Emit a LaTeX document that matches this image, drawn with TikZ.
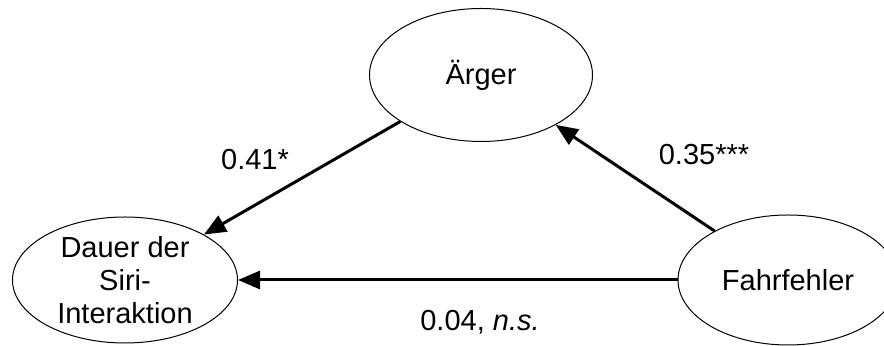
\documentclass[tikz,border=0pt]{standalone}
\usepackage{fontspec}
\setmainfont{Liberation Sans}
\usetikzlibrary{arrows.meta,shapes.geometric}

\begin{document}
\begin{tikzpicture}[x=1pt, y=1pt, >={Triangle[length=11pt,width=9pt]},
    var/.style={draw, ellipse, line width=0.5pt, inner sep=0pt, align=center,
        font=\fontsize{14.5}{16.5}\selectfont},
    path/.style={->, line width=1.5pt},
    coef/.style={font=\fontsize{14.5}{16.5}\selectfont}]
    \useasboundingbox (0,0) rectangle (442,173);

    \node[var, minimum width=111.5pt, minimum height=66.5pt] (aerger) at (240.5,135.5) {Ärger};
    \node[var, minimum width=112.5pt, minimum height=63pt] (dauer) at (62.5,33) {Dauer der\\Siri-\\Interaktion};
    \node[var, minimum width=110pt, minimum height=65pt] (fahr) at (394,33) {Fahrfehler};

    \draw[path] (aerger) -- (dauer);
    \draw[path] (fahr) -- (aerger);
    \draw[path] (fahr) -- (dauer);

    \node[coef] (c1) at (127.5,93) {0.41*};
    \node[coef] (c2) at (352,95.5) {0.35***};
    \node[coef] (c3) at (240,12) {0.04, \textit{n.s.}};
\end{tikzpicture}
\end{document}
